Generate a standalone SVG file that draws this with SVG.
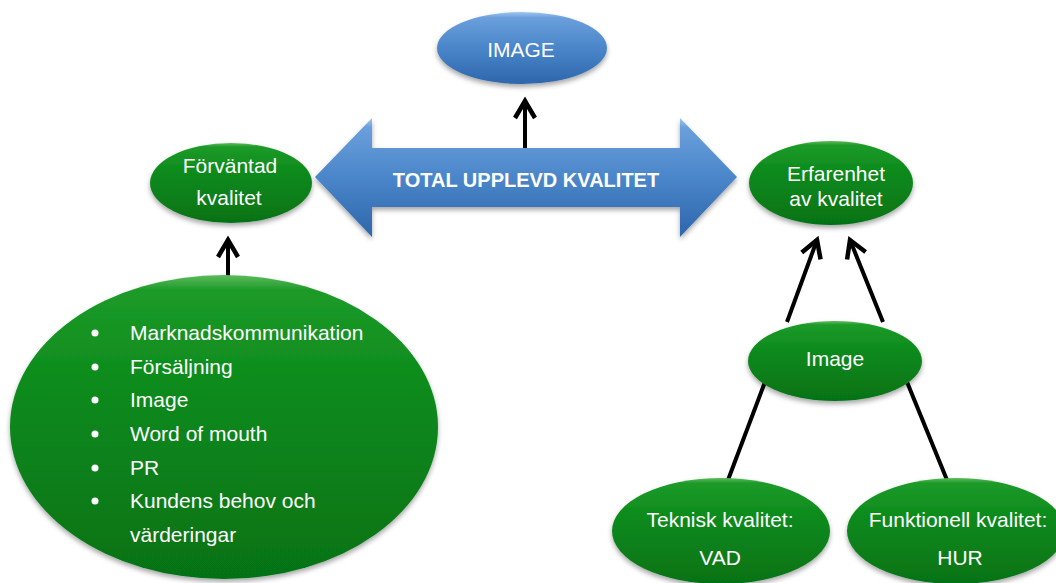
<svg xmlns="http://www.w3.org/2000/svg" width="1056" height="583" viewBox="0 0 1056 583">
<defs>
<linearGradient id="gGreen" x1="0" y1="0" x2="0" y2="1">
<stop offset="0" stop-color="#5dbb5d"/>
<stop offset="0.05" stop-color="#1c9a28"/>
<stop offset="0.4" stop-color="#0b891b"/>
<stop offset="1" stop-color="#067218"/>
</linearGradient>
<linearGradient id="gBlue" x1="0" y1="0" x2="0" y2="1">
<stop offset="0" stop-color="#a0c6ee"/>
<stop offset="0.08" stop-color="#6a9fdc"/>
<stop offset="0.5" stop-color="#4a86c9"/>
<stop offset="1" stop-color="#2e66ab"/>
</linearGradient>
<filter id="sh" x="-10%" y="-10%" width="120%" height="130%">
<feDropShadow dx="0" dy="3" stdDeviation="2.5" flood-color="#000" flood-opacity="0.35"/>
</filter>
<marker id="arr" markerUnits="userSpaceOnUse" markerWidth="26" markerHeight="26" viewBox="0 0 26 26" refX="21" refY="13" orient="auto">
<path d="M4,3 L21,13 L4,23" fill="none" stroke="#000" stroke-width="4.5" stroke-linejoin="miter"/>
</marker>
<style>
.g{fill:url(#gGreen);filter:url(#sh)}
.b{fill:url(#gBlue);filter:url(#sh)}
.t{font-family:"Liberation Sans",Arial,sans-serif;font-size:21px;fill:#fff}
.c{text-anchor:middle}
.bold{font-weight:bold;font-size:20px}
.ln{stroke:#000;stroke-width:4;fill:none}
</style>
</defs>
<rect width="1056" height="583" fill="#fff"/>

<g id="connectors">
<line class="ln" x1="525" y1="149" x2="525" y2="101" marker-end="url(#arr)"/>
<line class="ln" x1="228" y1="276" x2="228" y2="240" marker-end="url(#arr)"/>
<line class="ln" x1="787" y1="322" x2="817" y2="240" marker-end="url(#arr)"/>
<line class="ln" x1="883" y1="322" x2="850" y2="240" marker-end="url(#arr)"/>
<line class="ln" x1="765" y1="382" x2="728" y2="480"/>
<line class="ln" x1="907" y1="382" x2="947" y2="480"/>
</g>

<g id="image-top">
<ellipse class="b" cx="522" cy="48" rx="85" ry="36"/>
<text class="t c" x="521" y="57">IMAGE</text>
</g>

<g id="total">
<polygon class="b" points="315,177 372,118 372,148 680,148 680,118 737,177 680,237 680,207 372,207 372,237"/>
<text class="t c bold" x="526" y="187">TOTAL UPPLEVD KVALITET</text>
</g>

<g id="forvantad">
<ellipse class="g" cx="231" cy="183" rx="81" ry="40"/>
<text class="t c" x="230" y="173">Förväntad</text>
<text class="t c" x="229" y="205">kvalitet</text>
</g>

<g id="erfarenhet">
<ellipse class="g" cx="831" cy="183" rx="82" ry="42"/>
<text class="t c" x="836" y="181">Erfarenhet</text>
<text class="t c" x="836" y="206">av kvalitet</text>
</g>

<g id="faktorer">
<ellipse class="g" cx="224" cy="427" rx="214" ry="152"/>
<g fill="#fff">
<circle cx="95" cy="333" r="3.5"/>
<circle cx="95" cy="367" r="3.5"/>
<circle cx="95" cy="400" r="3.5"/>
<circle cx="95" cy="434" r="3.5"/>
<circle cx="95" cy="468" r="3.5"/>
<circle cx="95" cy="501" r="3.5"/>
</g>
<text class="t" x="130" y="340">Marknadskommunikation</text>
<text class="t" x="130" y="374">Försäljning</text>
<text class="t" x="130" y="407">Image</text>
<text class="t" x="130" y="441">Word of mouth</text>
<text class="t" x="130" y="475">PR</text>
<text class="t" x="130" y="508">Kundens behov och</text>
<text class="t" x="130" y="542">värderingar</text>
</g>

<g id="image-right">
<ellipse class="g" cx="835" cy="361" rx="87" ry="40"/>
<text class="t c" x="835" y="366">Image</text>
</g>

<g id="teknisk">
<ellipse class="g" cx="721" cy="531" rx="109" ry="53"/>
<text class="t c" x="720" y="527">Teknisk kvalitet:</text>
<text class="t c" x="720" y="565">VAD</text>
</g>

<g id="funktionell">
<ellipse class="g" cx="956" cy="531" rx="109" ry="53"/>
<text class="t c" x="958" y="527">Funktionell kvalitet:</text>
<text class="t c" x="960" y="565">HUR</text>
</g>
</svg>
